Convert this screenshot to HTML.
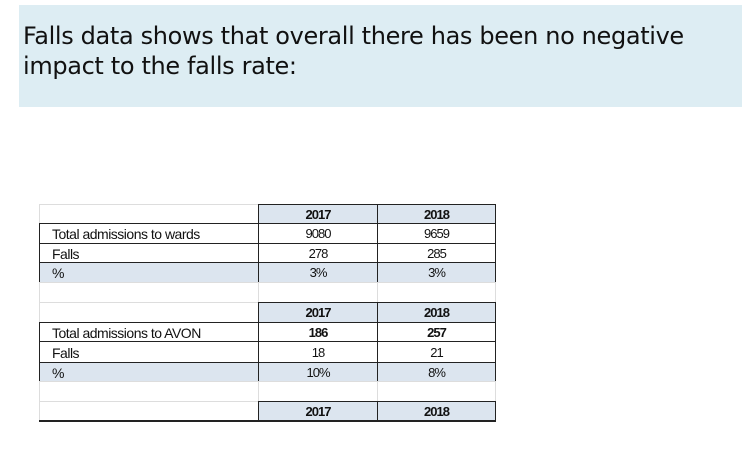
<!DOCTYPE html>
<html><head><meta charset="utf-8"><style>
body{margin:0;width:754px;height:451px;background:#fff;position:relative;overflow:hidden;font-family:"Liberation Sans",sans-serif}
.banner{position:absolute;left:19px;top:5px;width:723px;height:102px;background:#ddedf3}
.banner p{position:absolute;left:4px;top:16px;margin:0;font-family:"DejaVu Sans",sans-serif;font-size:24px;line-height:30px;color:#111;letter-spacing:-0.35px;white-space:nowrap}
.c{position:absolute;box-sizing:border-box;font-size:13px;letter-spacing:-1px;color:#111;line-height:18px;white-space:nowrap}
.lab{font-size:14px;letter-spacing:-0.5px}
</style></head><body>
<div class="banner"><p>Falls data shows that overall there has been no negative<br>impact to the falls rate:</p></div>
<div id="tbl"></div>
<script>
const years=["2017","2018"];
const wardsRow=["9080","9659"];
const wardFalls=["278","285"];
const wardPct=["3%","3%"];
const avonRow=["186","257"];
const avonFalls=["18","21"];
const avonPct=["10%","8%"];
const tbl=document.getElementById('tbl');
const X=[39,258,377,495];
function cell(x0,x1,y0,y1,txt,o){
 const d=document.createElement('div');
 d.className='c';
 
 
 d.style.left=x0+'px';d.style.top=y0+'px';d.style.width=(x1-x0+1)+'px';d.style.height=(y1-y0+1)+'px';
 d.style.border=o.border||'1px solid #222';
 if(o.bg)d.style.background=o.bg;
 d.style.textAlign=o.align||'center';
 if(o.align==='left'){d.style.paddingLeft='12px';d.classList.add('lab');}
 if(o.bold)d.style.fontWeight='bold';
 d.style.paddingTop=Math.max(0,(y1-y0-18)/2)+'px';
 d.textContent=txt;
 tbl.appendChild(d);
}
const light='1px solid #ddd',blue='#dce5ef';
function header(y0,y1,n){
 cell(X[0],X[1],y0,y1,'',{border:light,name:'header-blank-'+n});
 cell(X[1],X[2],y0,y1,years[0],{bg:blue,bold:true,name:'year-header-2017'});
 cell(X[2],X[3],y0,y1,years[1],{bg:blue,bold:true,name:'year-header-2018'});
}
function row(y0,y1,label,vals,bg,bold,n){
 cell(X[0],X[1],y0,y1,label,{align:'left',bg:bg,name:n+'-label'});
 cell(X[1],X[2],y0,y1,vals[0],{bg:bg,bold:bold,name:n+'-2017'});
 cell(X[2],X[3],y0,y1,vals[1],{bg:bg,bold:bold,name:n+'-2018'});
}
header(204,223,1);
row(223,243,'Total admissions to wards',wardsRow,null,false,'ward-admissions');
row(243,262,'Falls',wardFalls,null,false,'ward-falls');
row(262,282,'%',wardPct,blue,false,'ward-percent');
cell(X[0],X[1],282,302,'',{border:light,name:'spacer'});cell(X[1],X[2],282,302,'',{border:light,name:'spacer'});cell(X[2],X[3],282,302,'',{border:light,name:'spacer'});
header(302,322,2);
row(322,341,'Total admissions to AVON',avonRow,null,true,'avon-admissions');
tbl.lastChild.previousSibling.previousSibling.style.fontWeight='normal';
row(341,362,'Falls',avonFalls,null,false,'avon-falls');
row(362,381,'%',avonPct,blue,false,'avon-percent');
cell(X[0],X[1],381,401,'',{border:light,name:'spacer'});cell(X[1],X[2],381,401,'',{border:light,name:'spacer'});cell(X[2],X[3],381,401,'',{border:light,name:'spacer'});
header(401,421,3);
const bl=document.createElement('div');


bl.style.cssText='position:absolute;left:39px;top:420px;width:457px;height:2px;background:#222';
tbl.appendChild(bl);
</script>
</body></html>
